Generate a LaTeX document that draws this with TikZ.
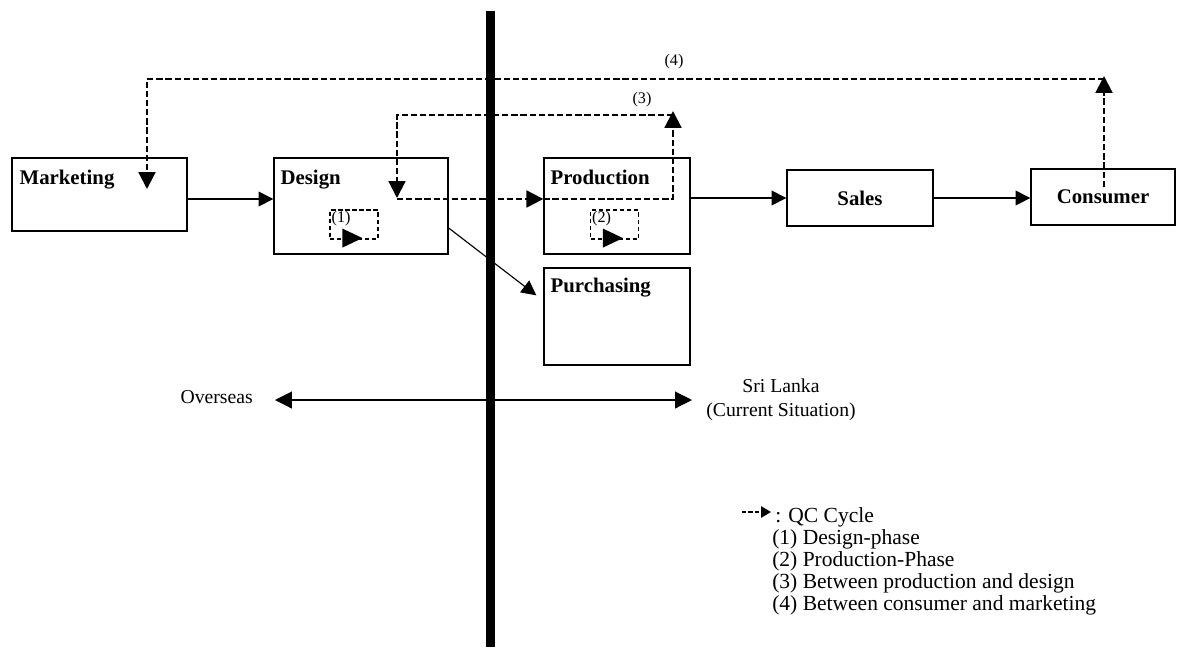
\documentclass[tikz,border=0pt]{standalone}
\usepackage{fontspec}
\setmainfont{Liberation Serif}
\usepackage{tikz}
\usetikzlibrary{arrows.meta,positioning,calc}

\begin{document}
\begin{tikzpicture}[
    x=0.025cm, y=-0.025cm,
    stagebox/.style={rectangle, draw, line width=0.9pt, inner sep=0pt},
    bigbold/.style={font=\fontsize{14.8}{17}\selectfont\bfseries},
    boxtitle/.style={bigbold, inner sep=0pt, anchor=base west},
    plain/.style={font=\fontsize{14}{17}\selectfont, inner sep=0pt},
    legtext/.style={font=\fontsize{15.3}{15.5}\selectfont, inner sep=0pt},
    tag/.style={font=\fontsize{11.5}{13}\selectfont, inner sep=0pt},
    arrow/.style={-{Triangle[length=10.5pt, width=10.5pt]}, line width=0.8pt},
    twoway/.style={{Triangle[length=12pt, width=12pt]}-{Triangle[length=12pt, width=12pt]}, line width=0.8pt},
    qc/.style={dash pattern=on 4.5pt off 2pt, line width=1.5pt},
    qcarrow/.style={qc, -{Triangle[length=12pt, width=12pt]}},
    qcbox/.style={rectangle, draw, dash pattern=on 3pt off 2pt, line width=0.8pt,
                  inner sep=0pt, minimum width=1.2cm, minimum height=0.725cm},
    divider/.style={line width=6.4pt}
]
\useasboundingbox (0,0) rectangle (1178,647);

% Stage boxes
\node[stagebox, minimum width=4.375cm, minimum height=1.825cm] (mkt) at (99.5,194.5) {};
\node[stagebox, minimum width=4.35cm, minimum height=2.4cm]    (dsg) at (361,206) {};
\node[stagebox, minimum width=3.65cm, minimum height=2.4cm]    (prd) at (617,206) {};
\node[stagebox, minimum width=3.65cm, minimum height=2.425cm]  (pur) at (617,316.5) {};
\node[stagebox, bigbold, minimum width=3.65cm, minimum height=1.4cm] (sls) at (860,198) {Sales};
\node[stagebox, bigbold, minimum width=3.6cm, minimum height=1.4cm]  (con) at (1103,197) {Consumer};

\node[boxtitle] (mkttitle) at ($(mkt.north west)+(8,27)$) {Marketing};
\node[boxtitle] (dsgtitle) at ($(dsg.north west)+(7,27)$) {Design};
\node[boxtitle] (prdtitle) at ($(prd.north west)+(7,27)$) {Production};
\node[boxtitle] (purtitle) at ($(pur.north west)+(7,25)$) {Purchasing};

% Dividing line
\coordinate (divtop) at (490.5,11);
\coordinate (divbot) at (490.5,647);
\draw[divider] (divtop) -- (divbot);

% Inner QC cycles
\node[qcbox] (qcone) at (354,224.5) {};
\node[tag, anchor=north west] (qconetag) at ($(qcone.north west)+(2,2)$) {(1)};
\fill ($(qcone.south west)+(13,-11)$) -- ($(qcone.south west)+(33,-1.5)$) -- ($(qcone.south west)+(13,8)$) -- cycle;

\node[qcbox] (qctwo) at (614.5,224.5) {};
\node[tag, anchor=north west] (qctwotag) at ($(qctwo.north west)+(2,2)$) {(2)};
\fill ($(qctwo.south west)+(13,-11)$) -- ($(qctwo.south west)+(33,-1.5)$) -- ($(qctwo.south west)+(13,8)$) -- cycle;

% Main flow
\coordinate (q3a) at (397,199);
\draw[arrow] (mkt.east |- q3a) -- (dsg.west |- q3a);
\draw[arrow] (prd.east |- sls.west) -- (sls.west);
\draw[arrow] (sls.east) -- (sls.east -| con.west);
\draw[arrow] ($(dsg.east)+(0,22)$) -- ($(pur.north west)+(-7,28)$);

% QC cycle (3)
\coordinate (q3b) at (673,199);
\coordinate (q3up) at (673,111);
\coordinate (q3c) at (673,115);
\coordinate (q3d) at (397,115);
\coordinate (q3down) at (397,198);
\draw[qcarrow] (q3a) -- (prd.west |- q3a);
\draw[qcarrow] (prd.west |- q3a) -- (q3b) -- (q3up);
\draw[qcarrow] (q3c) -- (q3d) -- (q3down);
\node[tag] (lblthree) at (642,100) {(3)};

% QC cycle (4)
\coordinate (q4a) at (1104,187);
\coordinate (q4up) at (1104,76);
\coordinate (q4b) at (1104,79);
\coordinate (q4c) at (147,79);
\coordinate (q4down) at (147,189);
\draw[qcarrow] (q4a) -- (q4up);
\draw[qcarrow] (q4b) -- (q4c) -- (q4down);
\node[tag] (lblfour) at (674,62) {(4)};

% Overseas / Sri Lanka
\node[plain, anchor=base east] (ovs) at (253,403) {Overseas};
\node[plain, align=center, anchor=north] (srl) at (781,378.5) {Sri Lanka\\(Current Situation)};
\coordinate (ovleft) at (275,400);
\coordinate (ovright) at (692,400);
\draw[twoway] (ovleft) -- (ovright);

% Legend
\coordinate (legstart) at (742,512);
\coordinate (legtip) at (771,512);
\draw[dash pattern=on 3pt off 1.5pt, line width=1pt, -{Triangle[length=7pt, width=8pt]}] (legstart) -- (legtip);
\node[legtext, anchor=base west] (legtitle) at (775,522) {: QC Cycle};
\node[legtext, align=left, anchor=north west] (leglist) at (772,529.5)
    {(1) Design-phase\\(2) Production-Phase\\(3) Between production and design\\(4) Between consumer and marketing};

\end{tikzpicture}
\end{document}
